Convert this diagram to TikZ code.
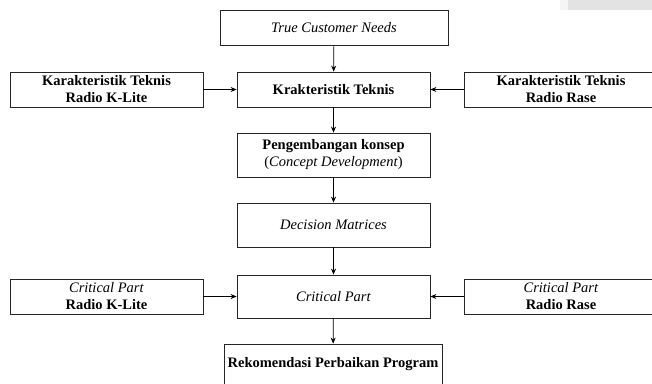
\documentclass[tikz,border=0pt]{standalone}
\usepackage{fontspec}
\setmainfont{Liberation Serif}
\usetikzlibrary{arrows.meta}
\begin{document}
\begin{tikzpicture}[x=1pt,y=-1pt,
  box/.style={draw=black!85,line width=0.8pt,rectangle,inner sep=0pt,align=center,
    font=\fontsize{14.5}{17}\selectfont,minimum width=193pt,minimum height=35pt},
  conn/.style={draw=black,line width=0.7pt,-{Stealth[length=6pt,width=5pt]}}]
\useasboundingbox (0,0) rectangle (652,383);
\clip (0,0) rectangle (652,383);
\fill[black!4] (560,0) rectangle (652,10);
\fill[black!11] (568,0) rectangle (652,10);
\node[box,minimum width=228pt] (tcn) at (334,27.5) {\textit{True Customer Needs}};
\node[box] (kt) at (333.5,89.5) {\textbf{Krakteristik Teknis}};
\node[box] (kl) at (106.5,89.5) {\textbf{Karakteristik Teknis}\\\textbf{Radio K-Lite}};
\node[box] (kr) at (561,89.5) {\textbf{Karakteristik Teknis}\\\textbf{Radio Rase}};
\node[box,minimum height=44pt] (pk) at (333.5,155) {\textbf{Pengembangan konsep}\\(\textit{Concept Development})};
\node[box,minimum height=44pt] (dm) at (333.5,225) {\textit{Decision Matrices}};
\node[box,minimum height=43pt] (cp) at (333.5,296.5) {\textit{Critical Part}};
\node[box] (cl) at (106.5,296.5) {\textit{Critical Part}\\\textbf{Radio K-Lite}};
\node[box] (cr) at (561,296.5) {\textit{Critical Part}\\\textbf{Radio Rase}};
\node[box,minimum width=218pt,minimum height=40pt] (rek) at (333,364) {\textbf{Rekomendasi Perbaikan Program}};
\draw[conn] (tcn) -- (kt);
\draw[conn] (kl) -- (kt);
\draw[conn] (kr) -- (kt);
\draw[conn] (kt) -- (pk);
\draw[conn] (pk) -- (dm);
\draw[conn] (dm) -- (cp);
\draw[conn] (cl) -- (cp);
\draw[conn] (cr) -- (cp);
\draw[conn] (cp) -- (rek);
\end{tikzpicture}
\end{document}
